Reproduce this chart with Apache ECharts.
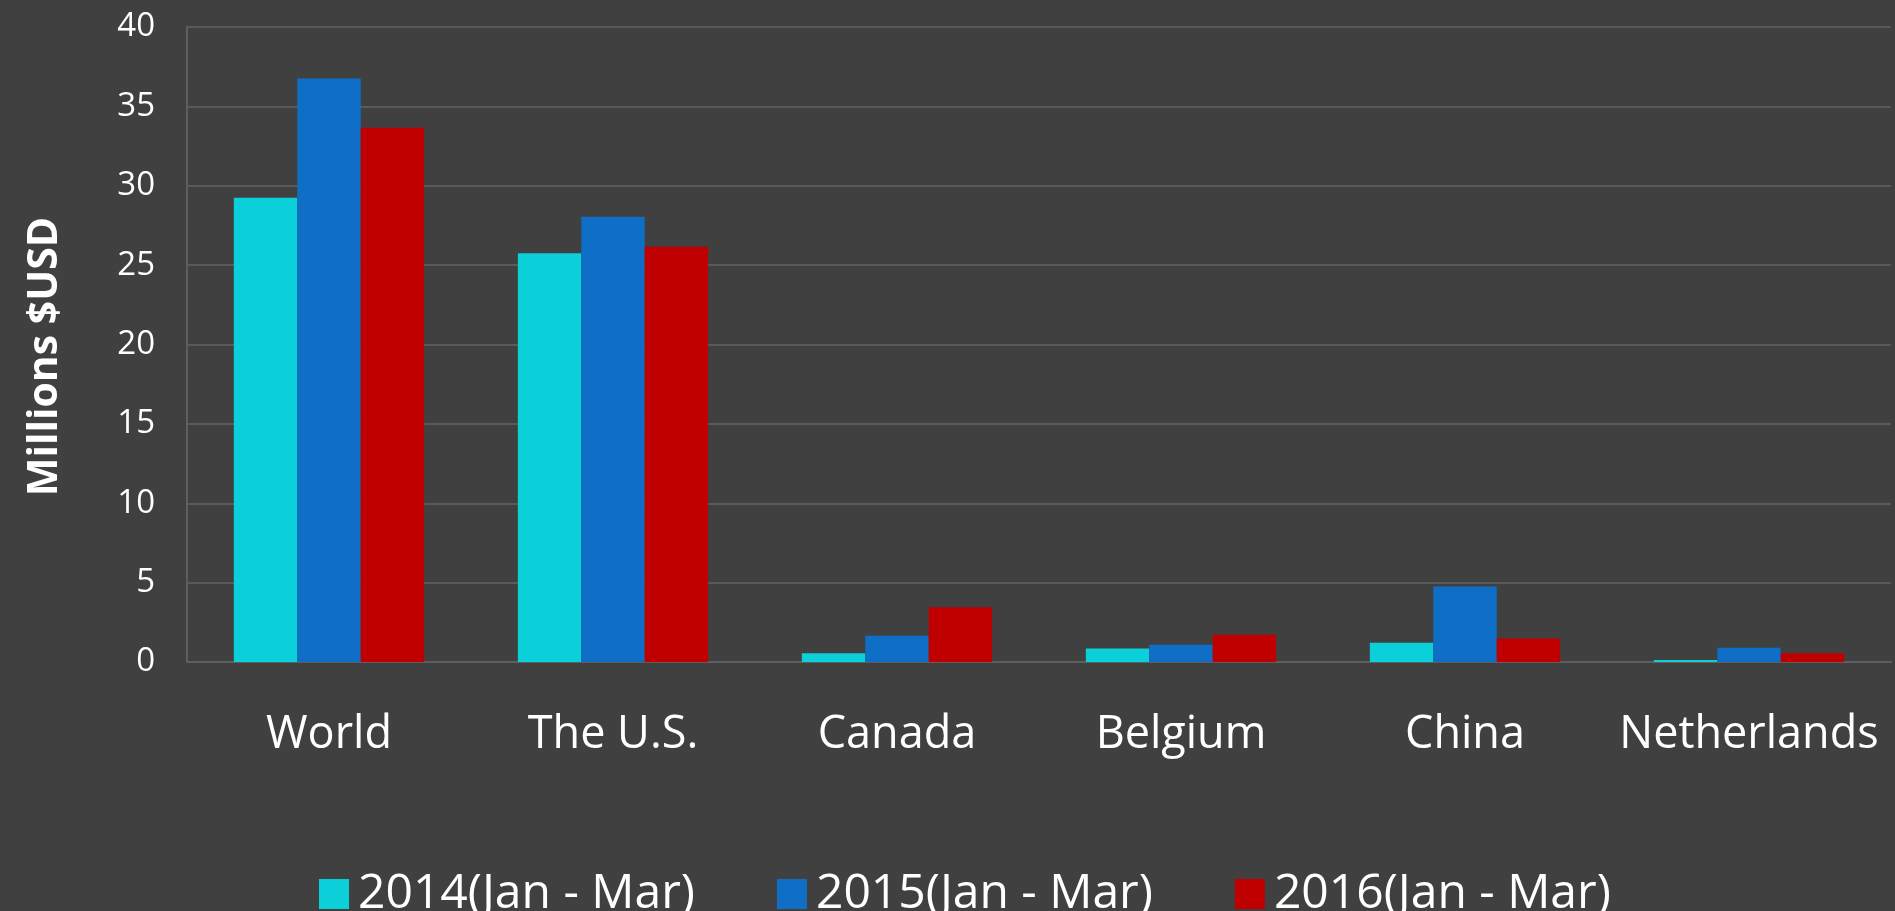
<!DOCTYPE html>
<html>
<head>
<meta charset="utf-8">
<title>Exports by destination, Q1 2014–2016</title>
<script src="https://cdn.jsdelivr.net/npm/echarts@6/dist/echarts.min.js"></script>
<style>
  html, body { margin: 0; padding: 0; background: #404040; }
  #chart { width: 1895px; height: 911px; }
</style>
</head>
<body>
<div id="chart"></div>
<script>
// Destinations on the category axis
const categories = ['World', 'The U.S.', 'Canada', 'Belgium', 'China', 'Netherlands'];

// Values in millions of USD, January–March of each year
const series2014 = [29.25, 25.75, 0.55, 0.85, 1.22, 0.12];
const series2015 = [36.75, 28.05, 1.66, 1.08, 4.75, 0.90];
const series2016 = [33.65, 26.15, 3.45, 1.72, 1.48, 0.55];

const seriesNames = ['2014(Jan - Mar)', '2015(Jan - Mar)', '2016(Jan - Mar)'];
const seriesColors = ['#0BD0D9', '#0F6FC6', '#C00000'];

// Value axis ticks
const yMin = 0, yMax = 40, yStep = 5;

const chart = echarts.init(document.getElementById('chart'));

const font = '"Open Sans", "Noto Sans", sans-serif';

chart.setOption({
  backgroundColor: '#404040',
  animation: false,
  grid: { left: 187, right: 4, top: 27, bottom: 249, containLabel: false },
  legend: {
    top: 865,
    left: 314,
    itemWidth: 30,
    itemHeight: 30,
    itemGap: 82,
    icon: 'rect',
    textStyle: { color: '#ffffff', fontSize: 48, lineHeight: 48, fontFamily: font, padding: [0, 0, 0, 4] },
    data: seriesNames
  },
  xAxis: {
    type: 'category',
    data: categories,
    axisLine: { show: true, lineStyle: { color: '#5e5e5e', width: 2 } },
    axisTick: { show: false },
    axisLabel: { color: '#ffffff', fontSize: 45, fontFamily: font, margin: 51, interval: 0 },
    splitLine: { show: false }
  },
  yAxis: {
    type: 'value',
    min: yMin,
    max: yMax,
    interval: yStep,
    name: 'Millions $USD',
    nameLocation: 'middle',
    nameGap: 121,
    nameTextStyle: { color: '#ffffff', fontSize: 41, fontWeight: 'bold', fontFamily: font, padding: [0, 24, 0, 0] },
    axisLine: { show: true, lineStyle: { color: '#5e5e5e', width: 2 } },
    axisTick: { show: false },
    axisLabel: { color: '#ffffff', fontSize: 33, fontFamily: font, margin: 32 },
    splitLine: { show: true, lineStyle: { color: '#5a5a5a', width: 2 } }
  },
  series: [series2014, series2015, series2016].map((values, i) => ({
    name: seriesNames[i],
    type: 'bar',
    data: values,
    barGap: '0%',
    barCategoryGap: '33%',
    itemStyle: { color: seriesColors[i] }
  }))
});
</script>
</body>
</html>
